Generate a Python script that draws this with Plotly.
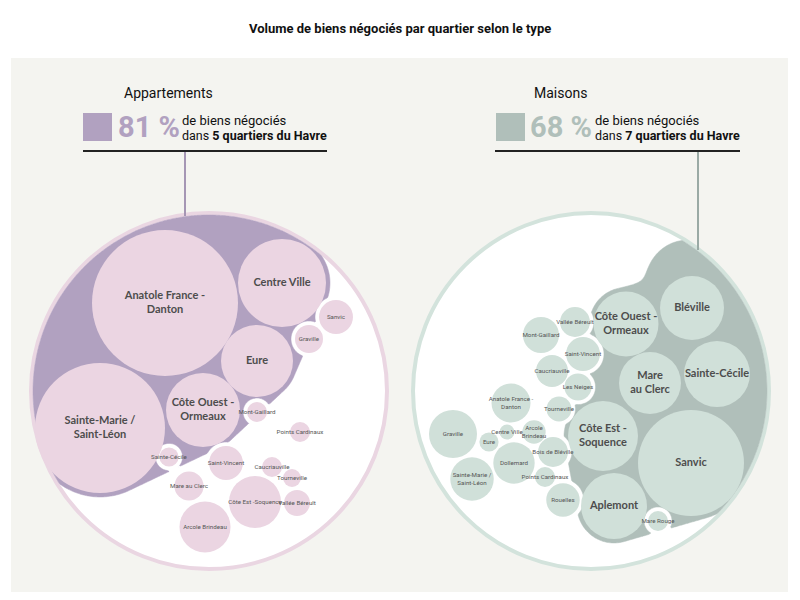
import numpy as np
import plotly.graph_objects as go

# ---------------------------------------------------------------
# Données : volume de biens négociés par quartier (aire des bulles)
# ---------------------------------------------------------------
# Appartements (les 5 premiers = quartiers mis en avant)
quartiers_appart = ["Anatole France - Danton", "Sainte-Marie / Saint-Léon", "Centre Ville",
                    "Côte Ouest - Ormeaux", "Eure", "Côte Est - Soquence", "Arcole Brindeau",
                    "Sanvic", "Saint-Vincent", "Mare au Clerc", "Graville", "Vallée Béreult",
                    "Mont-Gaillard", "Points Cardinaux", "Caucriauville", "Sainte-Cécile",
                    "Tourneville"]
volumes_appart = [1332, 1056, 484, 342, 324, 169, 163, 72, 72, 53, 49, 42, 25, 25, 25, 23, 20]
etiquettes_appart = ["Anatole France -<br>Danton", "Sainte-Marie /<br>Saint-Léon", "Centre Ville",
                     "Côte Ouest -<br>Ormeaux", "Eure", "Côte Est -Soquence", "Arcole Brindeau",
                     "Sanvic", "Saint-Vincent", "Mare au Clerc", "Graville", "Vallée Béreult",
                     "Mont-Gaillard", "Points Cardinaux", "Caucriauville", "Sainte-Cécile",
                     "Tourneville"]
nb_top_appart = 5
part_top_appart = 81

# Maisons (les 7 premiers = quartiers mis en avant)
quartiers_maison = ["Sanvic", "Côte Est - Soquence", "Sainte-Cécile", "Aplemont",
                    "Côte Ouest - Ormeaux", "Bléville", "Mare au Clerc", "Graville",
                    "Sainte-Marie / Saint-Léon", "Dollemard", "Anatole France - Danton",
                    "Mont-Gaillard", "Saint-Vincent", "Rouelles", "Caucriauville",
                    "Vallée Béreult", "Bois de Bléville", "Les Neiges", "Tourneville",
                    "Arcole Brindeau", "Mare Rouge", "Points Cardinaux", "Eure", "Centre Ville"]
volumes_maison = [702, 306, 272, 272, 264, 256, 240, 144, 118, 107, 95, 81, 72, 70, 64,
                  56, 56, 46, 39, 34, 25, 25, 23, 14]
etiquettes_maison = ["Sanvic", "Côte Est -<br>Soquence", "Sainte-Cécile", "Aplemont",
                     "Côte Ouest -<br>Ormeaux", "Bléville", "Mare<br>au Clerc", "Graville",
                     "Sainte-Marie /<br>Saint-Léon", "Dollemard", "Anatole France -<br>Danton",
                     "Mont-Gaillard", "Saint-Vincent", "Rouelles", "Caucriauville",
                     "Vallée Béreult", "Bois de Bléville", "Les Neiges", "Tourneville",
                     "Arcole<br>Brindeau", "Mare Rouge", "Points Cardinaux", "Eure", "Centre Ville"]
nb_top_maison = 7
part_top_maison = 68

# ---------------------------------------------------------------
# Mise en page : placement des bulles (en pixels, bulles tassées)
# ---------------------------------------------------------------
pos_appart = [(165, 303), (100, 428), (282, 283), (203, 410), (257, 361), (255, 502),
              (205, 527), (336, 317), (226, 463), (189, 486), (309, 339), (297, 503),
              (257, 412), (300, 432), (272, 467), (169, 457), (292, 478)]
pos_maison = [(691, 463), (603, 436), (717, 374), (614, 506), (626, 324), (692, 308),
              (650, 383), (453, 434), (472, 479), (514, 463), (511, 403), (541, 335),
              (583, 354), (563, 500), (552, 371), (575, 322), (553, 452), (578, 387),
              (559, 409), (534, 432), (658, 521), (545, 477), (489, 442), (507, 432)]

K = 2.0            # rayon = K * sqrt(volume)
PAD = 4            # marge du fond foncé autour des bulles mises en avant
GAP = 4            # blanc autour des petites bulles
LISSAGE = 5        # raccord arrondi entre l'enveloppe et les bosses
FONT_HEAD = "Roboto, Lato, sans-serif"
FONT_SMALL = "Roboto, sans-serif"
FONT_LAB = "Lato, Roboto, sans-serif"

panneaux = [
    dict(titre="Appartements", quartiers=quartiers_appart, volumes=volumes_appart,
         etiquettes=etiquettes_appart, pos=pos_appart, n_top=nb_top_appart,
         part=part_top_appart, centre=(209, 391), arc=(-206, -52), bosses=[],
         bulle="#ebd5e2", fond="#b1a1c0", anneau="#ead6e2", trait="#a596b4",
         x_titre=122, x_carre=83, x_pct=116, x_txt=180, x_regle=(83, 327), x_lien=185, y_lien=216),
    dict(titre="Maisons", quartiers=quartiers_maison, volumes=volumes_maison,
         etiquettes=etiquettes_maison, pos=pos_maison, n_top=nb_top_maison,
         part=part_top_maison, centre=(591, 391), arc=(-45, 26), bosses=[(688, 282, 42)],
         bulle="#d0e0d9", fond="#b0bfba", anneau="#d3e3dc", trait="#9aaaa5",
         x_titre=532, x_carre=496, x_pct=528, x_txt=593, x_regle=(495, 740), x_lien=698, y_lien=250),
]
R_ANNEAU = 178


def enveloppe(points):
    pts = sorted(set((round(x, 3), round(y, 3)) for x, y in points))

    def cross(o, a, b):
        return (a[0] - o[0]) * (b[1] - o[1]) - (a[1] - o[1]) * (b[0] - o[0])
    bas, haut = [], []
    for p in pts:
        while len(bas) >= 2 and cross(bas[-2], bas[-1], p) <= 0:
            bas.pop()
        bas.append(p)
    for p in reversed(pts):
        while len(haut) >= 2 and cross(haut[-2], haut[-1], p) <= 0:
            haut.pop()
        haut.append(p)
    return bas[:-1] + haut[:-1]


def champ_fond(xx, yy, pan, rayons):
    # enveloppe convexe des bulles mises en avant + arc de l'anneau (+ bosses),
    # coupée par l'anneau, moins les petites bulles
    t = np.linspace(0, 2 * np.pi, 120, endpoint=False)
    pts = []
    for (cx, cy), r in zip(pan["pos"][:pan["n_top"]], rayons[:pan["n_top"]]):
        pts += list(zip(cx + (r + PAD) * np.cos(t), cy + (r + PAD) * np.sin(t)))
    a = np.radians(np.linspace(pan["arc"][0], pan["arc"][1], 80))
    ox, oy = pan["centre"]
    pts += list(zip(ox + R_ANNEAU * np.cos(a), oy + R_ANNEAU * np.sin(a)))
    hull = enveloppe(pts)
    gx = np.mean([p[0] for p in hull])
    gy = np.mean([p[1] for p in hull])
    d = np.full(xx.shape, -1e9)
    for i in range(len(hull)):
        ax, ay = hull[i]
        bx, by = hull[(i + 1) % len(hull)]
        nx, ny = by - ay, -(bx - ax)
        n = np.hypot(nx, ny)
        if n == 0:
            continue
        nx, ny = nx / n, ny / n
        if nx * (gx - ax) + ny * (gy - ay) > 0:
            nx, ny = -nx, -ny
        d = np.maximum(d, nx * (xx - ax) + ny * (yy - ay))
    for bx, by, br in pan["bosses"]:
        db = np.hypot(xx - bx, yy - by) - br
        m = np.minimum(d, db)
        d = m - LISSAGE * np.log(np.exp(-(d - m) / LISSAGE) + np.exp(-(db - m) / LISSAGE))
    d = np.maximum(d, np.hypot(xx - ox, yy - oy) - (R_ANNEAU - 2))
    for (cx, cy), r in zip(pan["pos"][pan["n_top"]:], rayons[pan["n_top"]:]):
        d = np.maximum(d, r + GAP - np.hypot(xx - cx, yy - cy))
    return d


fig = go.Figure()
shapes = [dict(type="rect", x0=11, x1=788, y0=58, y1=592, fillcolor="#f4f4f0",
               line=dict(width=0), layer="below")]
annotations = [dict(x=400, y=28, text="<b>Volume de biens négociés par quartier selon le type</b>",
                    font=dict(family=FONT_HEAD, size=13, color="#111111"))]

for pan in panneaux:
    vol = np.array(pan["volumes"], dtype=float)
    rayons = K * np.sqrt(vol)
    ox, oy = pan["centre"]

    # anneau
    shapes.append(dict(type="circle", x0=ox - R_ANNEAU, x1=ox + R_ANNEAU, y0=oy - R_ANNEAU,
                       y1=oy + R_ANNEAU, fillcolor="white",
                       line=dict(color=pan["anneau"], width=4), layer="below"))

    # fond foncé derrière les quartiers principaux (zone où le champ est négatif)
    xs = np.arange(ox - 182, ox + 182, 1.5)
    ys = np.arange(oy - 182, oy + 182, 1.5)
    xx, yy = np.meshgrid(xs, ys)
    zz = np.round(-champ_fond(xx, yy, pan, rayons), 2)
    fig.add_trace(go.Contour(x=xs, y=ys, z=zz, showscale=False, hoverinfo="skip",
                             contours=dict(type="constraint", operation="<", value=0),
                             fillcolor=pan["fond"], line=dict(width=0.5, color=pan["fond"], smoothing=1)))

    # bulles
    top = np.arange(len(vol)) < pan["n_top"]
    textes = [f"<b>{e}</b>" if t else e for e, t in zip(pan["etiquettes"], top)]
    fig.add_trace(go.Scatter(
        x=[p[0] for p in pan["pos"]], y=[p[1] for p in pan["pos"]],
        mode="markers+text", text=textes, textposition="middle center",
        customdata=pan["quartiers"], hovertemplate="%{customdata}<extra></extra>",
        marker=dict(size=vol, sizemode="area", sizeref=1 / (2 * K * K), color=pan["bulle"],
                    line=dict(width=0), opacity=1),
        textfont=dict(family=[FONT_LAB if t else FONT_SMALL for t in top],
                      size=[11 if t else 6.2 for t in top],
                      color=["#4d4d4d" if t else "#555555" for t in top])))

    # en-tête
    annotations += [
        dict(x=pan["x_titre"], y=93, text=pan["titre"], xanchor="left",
             font=dict(family=FONT_HEAD, size=14, color="#111111")),
        dict(x=pan["x_pct"], y=127, text=f"<b>{pan['part']} %</b>", xanchor="left",
             font=dict(family=FONT_HEAD, size=29, color=pan["fond"])),
        dict(x=pan["x_txt"], y=120, text="de biens négociés", xanchor="left",
             font=dict(family=FONT_HEAD, size=13, color="#111111")),
        dict(x=pan["x_txt"], y=135, text=f"dans <b>{pan['n_top']} quartiers du Havre</b>",
             xanchor="left", font=dict(family=FONT_HEAD, size=12.5, color="#111111")),
    ]
    shapes += [
        dict(type="rect", x0=pan["x_carre"], x1=pan["x_carre"] + 29, y0=113, y1=141,
             fillcolor=pan["fond"], line=dict(width=0)),
        dict(type="line", x0=pan["x_regle"][0], x1=pan["x_regle"][1], y0=151, y1=151,
             line=dict(color="#222222", width=2)),
        dict(type="line", x0=pan["x_lien"], x1=pan["x_lien"], y0=152, y1=pan["y_lien"],
             line=dict(color=pan["trait"], width=2)),
    ]

for a in annotations:
    a.update(xref="x", yref="y", showarrow=False)

fig.update_layout(width=800, height=600, margin=dict(l=0, r=0, t=0, b=0),
                  paper_bgcolor="white", plot_bgcolor="white", showlegend=False,
                  xaxis=dict(range=[0, 800], visible=False, fixedrange=True),
                  yaxis=dict(range=[600, 0], visible=False, fixedrange=True),
                  shapes=shapes, annotations=annotations)

fig.write_html("out.html", config={"displayModeBar": False},
               post_script="document.body.style.margin='0';")
